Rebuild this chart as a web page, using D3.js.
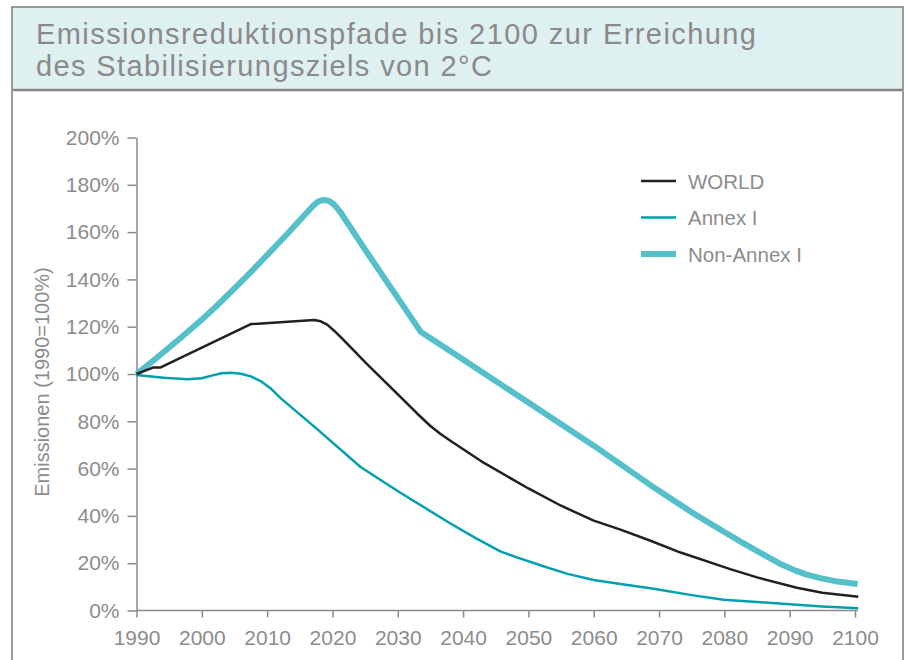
<!DOCTYPE html>
<html>
    <head>
        <meta charset="utf-8">
        <title>Emissionsreduktionspfade</title>
        <script src="https://d3js.org/d3.v7.min.js"></script>
        <style>
            html, body {
                margin: 0;
                padding: 0;
                background: #FFF;
                font-family: "Liberation Sans", Arial, sans-serif;
            }
            svg {
                display: block;
            }
            .axis path, .axis line {
                stroke: #8a8a8a;
                stroke-width: 1.5;
            }
            .axis text {
                fill: #8c8c8c;
                font-family: "Liberation Sans", Arial, sans-serif;
            }
        </style>
    </head>
    <body>
        <svg id="chart" width="906" height="660"></svg>
        <script>
            const titleLines = ['Emissionsreduktionspfade bis 2100 zur Erreichung', 'des Stabilisierungsziels von 2°C'];
            const yTicks = [0, 20, 40, 60, 80, 100, 120, 140, 160, 180, 200];
            const xTicks = [1990, 2000, 2010, 2020, 2030, 2040, 2050, 2060, 2070, 2080, 2090, 2100];

            // [Jahr, Emissionen in % von 1990]
            const world = [
                [1990, 100], [1992.6, 102.8], [1993.7, 102.8], [2007.5, 121.1], [2017.2, 122.8],
                [2018.2, 122.3], [2019.2, 120.9], [2020.3, 118.2], [2021.5, 115], [2025.3, 104.2],
                [2030.4, 90.3], [2033, 83.2], [2035, 78], [2036.5, 74.7], [2038, 71.9],
                [2043.2, 62.4], [2050, 51.6], [2055, 44.3], [2060, 38], [2064.1, 34.2],
                [2068.7, 29.5], [2073.3, 24.5], [2080.9, 17.5], [2085, 14], [2091.1, 9.6],
                [2095, 7.5], [2100.5, 5.8]
            ];
            const annex1 = [
                [1990, 99.6], [1994.2, 98.4], [1997.8, 97.8], [2000, 98.2], [2001.5, 99.3],
                [2003, 100.3], [2004.5, 100.5], [2006, 100.1], [2007.5, 99], [2009, 97],
                [2010.5, 94], [2012.1, 89.7], [2017.7, 76.6], [2024.3, 60.7], [2030.4, 49.8],
                [2038, 36.9], [2042, 30.5], [2045.7, 25], [2048, 22.7], [2052.4, 18.6],
                [2056, 15.5], [2060, 12.9], [2064.1, 11.2], [2068.7, 9.4], [2075, 6.5],
                [2079.9, 4.5], [2085, 3.6], [2090, 2.6], [2095, 1.7], [2100.5, 0.9]
            ];
            const nonAnnex1 = [
                [1990, 100], [1992.5, 105.5], [1995, 111.2], [1997.5, 117], [2000, 123],
                [2002.5, 129.4], [2005, 136.2], [2007.5, 143.1], [2010, 150.3], [2013, 159],
                [2015.5, 166.5], [2017, 171], [2017.8, 172.9], [2018.6, 173.6], [2019.4, 173.3],
                [2020.2, 171.8], [2021.2, 168.5], [2025, 152.6], [2030, 132.2], [2033.5, 117.9],
                [2040, 106.1], [2050, 87.9], [2060, 69.7], [2068.7, 53], [2075, 41.5],
                [2080, 33.2], [2083, 28.3], [2086, 23.6], [2088.5, 19.8], [2090.7, 17.1],
                [2092.5, 15.3], [2094.7, 13.7], [2097, 12.4], [2100.4, 11.2]
            ];

            const series = [
                {name: 'WORLD', data: world, color: '#231f20', width: 2.5},
                {name: 'Annex I', data: annex1, color: '#00a0ae', width: 2.5},
                {name: 'Non-Annex I', data: nonAnnex1, color: '#55bfca', width: 6}
            ];

            const svg = d3.select('#chart');

            // Rahmen und Titelkasten
            svg.append('rect')
                .attr('x', 12).attr('y', 7)
                .attr('width', 891).attr('height', 83)
                .attr('fill', '#dff0f0');
            svg.append('line')
                .attr('x1', 12).attr('x2', 903)
                .attr('y1', 90).attr('y2', 90)
                .attr('stroke', '#858585').attr('stroke-width', 2.5);
            svg.append('path')
                .attr('d', 'M12,662 V7 H903 V662')
                .attr('fill', 'none')
                .attr('stroke', '#9a9a9a')
                .attr('stroke-width', 2);

            const titleWidths = [720, 456];
            svg.append('g')
                .selectAll('text')
                .data(titleLines)
                .join('text')
                .attr('x', 36)
                .attr('y', (d, i) => 44 + i * 32)
                .attr('fill', '#8a8a8a')
                .attr('textLength', (d, i) => titleWidths[i])
                .attr('lengthAdjust', 'spacing')
                .style('font-size', '29px')
                .text(d => d);

            const x = d3.scaleLinear().domain([1990, 2100]).range([136.5, 855]);
            const y = d3.scaleLinear().domain([0, 200]).range([610.5, 137.5]);

            const yAxis = svg.append('g')
                .attr('class', 'axis')
                .attr('transform', 'translate(136.5,0)')
                .call(d3.axisLeft(y)
                    .tickValues(yTicks)
                    .tickFormat(d => d + '%')
                    .tickSize(9)
                    .tickSizeOuter(0)
                    .tickPadding(8));
            yAxis.selectAll('text').style('font-size', '21px');

            const xAxis = svg.append('g')
                .attr('class', 'axis')
                .attr('transform', 'translate(0,610.5)')
                .call(d3.axisBottom(x)
                    .tickValues(xTicks)
                    .tickFormat(d3.format('d'))
                    .tickSize(7)
                    .tickSizeOuter(0)
                    .tickPadding(13));
            xAxis.selectAll('text').style('font-size', '21px');
            xAxis.select('.domain').attr('d', `M${x(1990)},0H${x(2100) + 3}`);

            svg.append('text')
                .attr('transform', `translate(49,${(y(0) + y(200)) / 2 + 8}) rotate(-90)`)
                .attr('text-anchor', 'middle')
                .attr('fill', '#8c8c8c')
                .style('font-size', '20px')
                .text('Emissionen (1990=100%)');

            const line = d3.line()
                .x(d => x(d[0]))
                .y(d => y(d[1]));

            svg.append('g')
                .selectAll('path')
                .data(series.slice().reverse())
                .join('path')
                .attr('fill', 'none')
                .attr('stroke', d => d.color)
                .attr('stroke-width', d => d.width)
                .attr('stroke-linejoin', 'round')
                .attr('d', d => line(d.data));

            // Legende
            const legend = svg.append('g')
                .selectAll('g')
                .data(series)
                .join('g')
                .attr('transform', (d, i) => `translate(641,${181 + i * 36.5})`);
            legend.append('line')
                .attr('x1', 0).attr('x2', 35)
                .attr('stroke', d => d.color)
                .attr('stroke-width', d => d.width);
            legend.append('text')
                .attr('x', 47)
                .attr('y', 7.5)
                .attr('fill', '#8c8c8c')
                .style('font-size', '20.5px')
                .text(d => d.name);
        </script>
    </body>
</html>
